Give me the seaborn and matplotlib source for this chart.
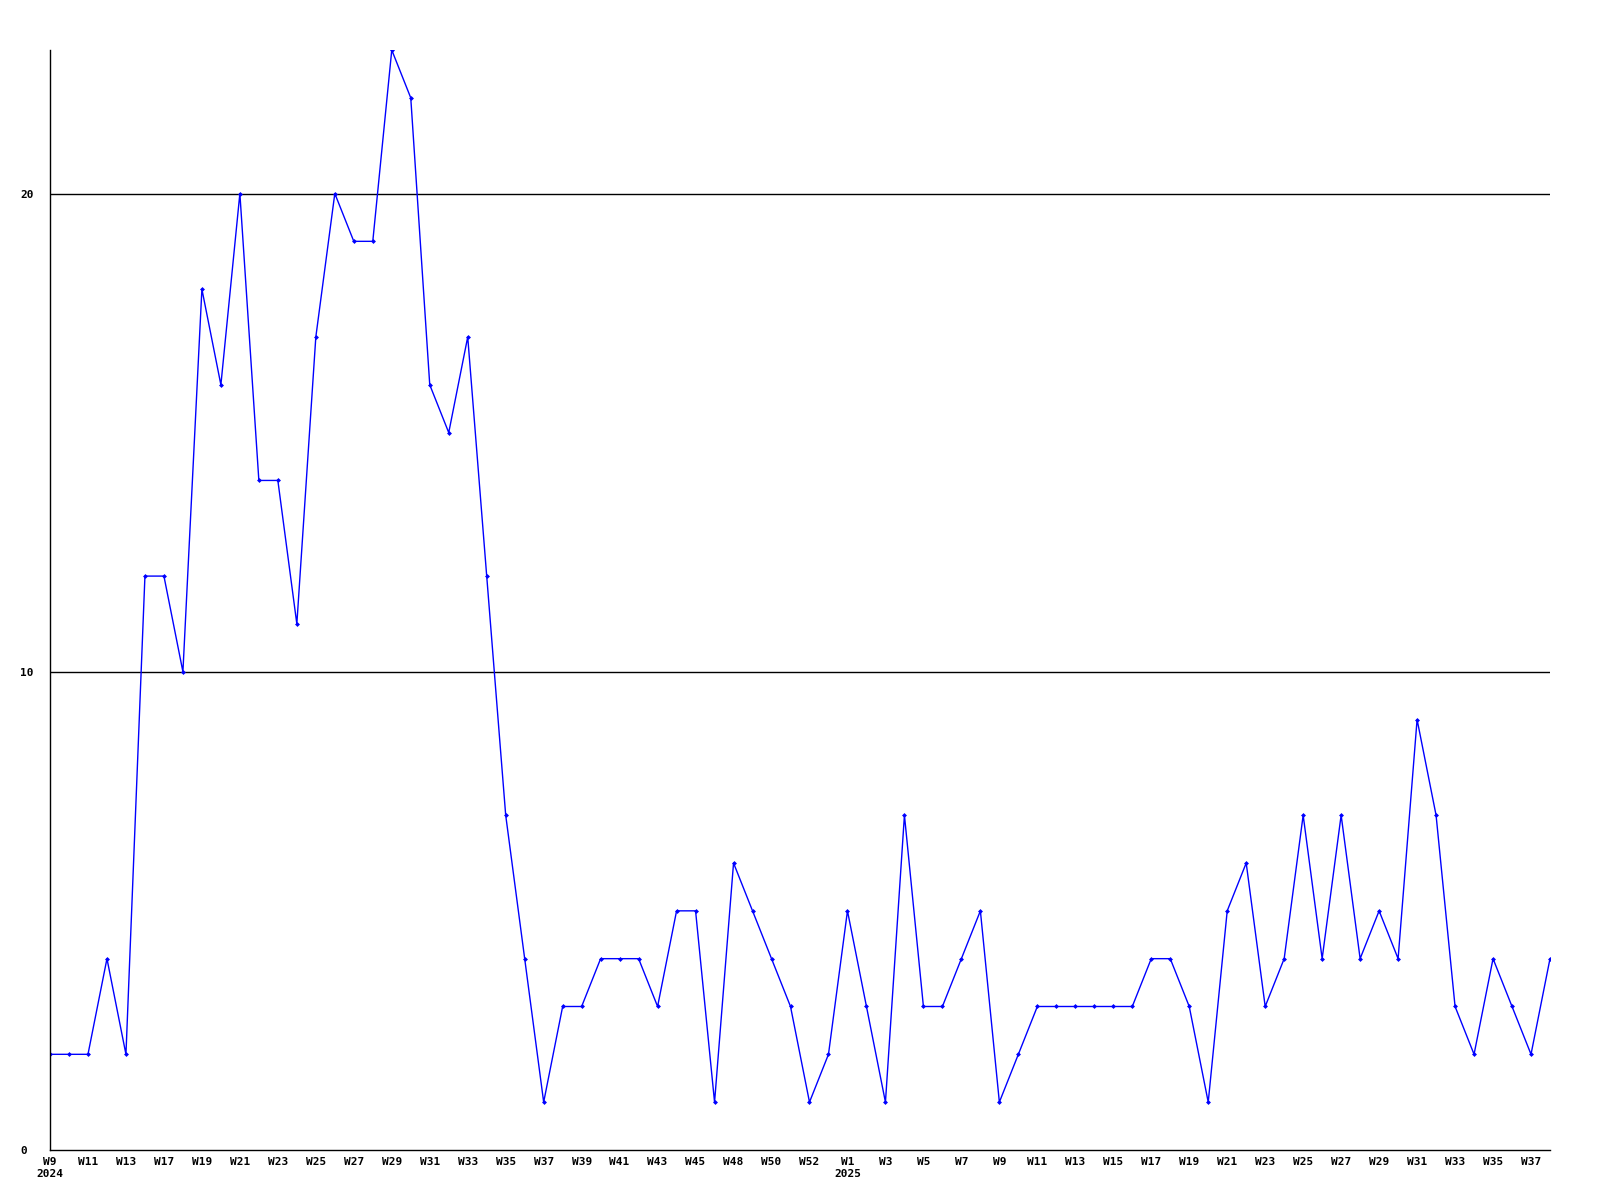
import numpy as np
import seaborn as sns
import matplotlib.pyplot as plt

weeks = ['W9', 'W10', 'W11', 'W12', 'W13', 'W16', 'W17', 'W18', 'W19', 'W20',
         'W21', 'W22', 'W23', 'W24', 'W25', 'W26', 'W27', 'W28', 'W29', 'W30',
         'W31', 'W32', 'W33', 'W34', 'W35', 'W36', 'W37', 'W38', 'W39', 'W40',
         'W41', 'W42', 'W43', 'W44', 'W45', 'W47', 'W48', 'W49', 'W50', 'W51',
         'W52', 'W53',
         'W1', 'W2', 'W3', 'W4', 'W5', 'W6', 'W7', 'W8', 'W9', 'W10',
         'W11', 'W12', 'W13', 'W14', 'W15', 'W16', 'W17', 'W18', 'W19', 'W20',
         'W21', 'W22', 'W23', 'W24', 'W25', 'W26', 'W27', 'W28', 'W29', 'W30',
         'W31', 'W32', 'W33', 'W34', 'W35', 'W36', 'W37', 'W38']

counts = [2, 2, 2, 4, 2, 12, 12, 10, 18, 16,
          20, 14, 14, 11, 17, 20, 19, 19, 23, 22,
          16, 15, 17, 12, 7, 4, 1, 3, 3, 4,
          4, 4, 3, 5, 5, 1, 6, 5, 4, 3,
          1, 2,
          5, 3, 1, 7, 3, 3, 4, 5, 1, 2,
          3, 3, 3, 3, 3, 3, 4, 4, 3, 1,
          5, 6, 3, 4, 7, 4, 7, 4, 5, 4,
          9, 7, 3, 2, 4, 3, 2, 4]

# first week of each year gets the year under it
year_starts = {0: '2024', 42: '2025'}

fig = plt.figure(figsize=(16, 12), dpi=100)
ax = fig.add_axes([0.03125, 0.0417, 0.9375, 0.9166])

sns.set_style('white')
pos = np.arange(len(counts))
sns.lineplot(x=pos, y=counts, ax=ax, color='#0000ff', linewidth=1,
             marker='D', markersize=2.5, markeredgewidth=0)

for y in (10, 20):
    ax.axhline(y, color='black', linewidth=1, zorder=0)

ax.set_xlim(0, len(counts) - 1)
ax.set_ylim(0, 23)

ticks = pos[::2]
labels = []
for i in ticks:
    lab = weeks[i]
    if i in year_starts:
        lab += '\n' + year_starts[i]
    labels.append(lab)
ax.set_xticks(ticks)
ax.set_xticklabels(labels, fontsize=8, fontweight='bold',
                   family='DejaVu Sans Mono', linespacing=1.3)
ax.set_yticks([0, 10, 20])
ax.set_yticklabels(['0', '10', '20'], fontsize=8, fontweight='bold',
                   family='DejaVu Sans Mono', ha='left')
ax.tick_params(axis='both', length=0)
ax.tick_params(axis='x', pad=5)
ax.tick_params(axis='y', pad=21.5)

for s in ('top', 'right'):
    ax.spines[s].set_visible(False)
for s in ('left', 'bottom'):
    ax.spines[s].set_color('black')
    ax.spines[s].set_linewidth(1)

fig.savefig('out.png', dpi=100)
